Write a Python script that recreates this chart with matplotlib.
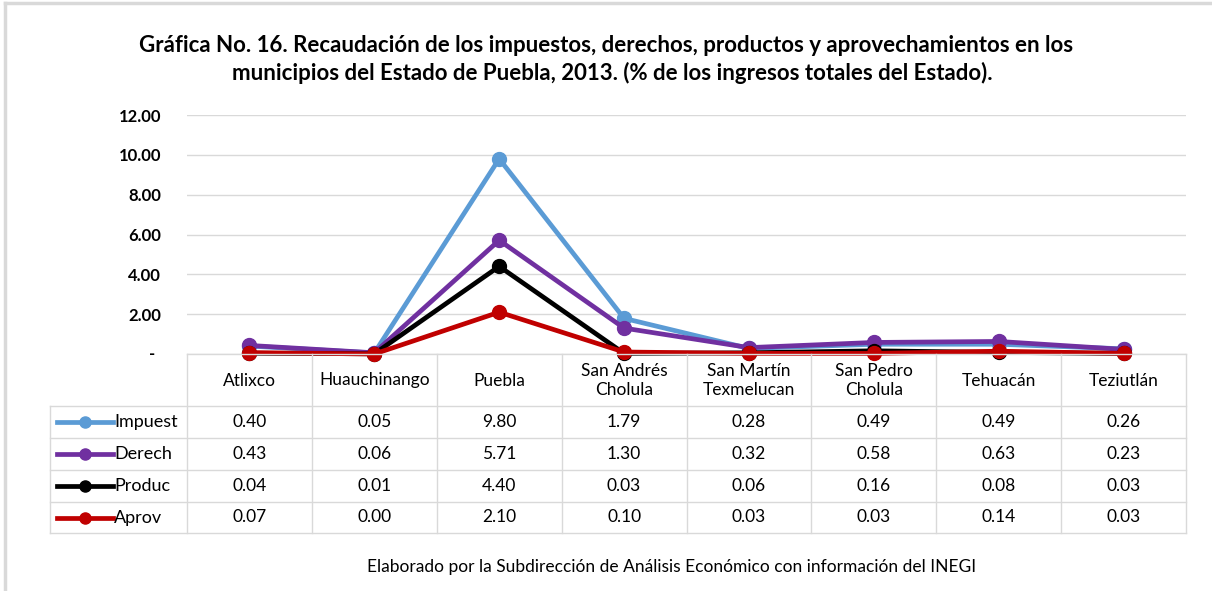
import matplotlib.pyplot as plt
from matplotlib.lines import Line2D

plt.rcParams['font.family'] = ['Lato', 'DejaVu Sans']

municipios = ["Atlixco", "Huauchinango", "Puebla", "San Andrés\nCholula", "San Martín\nTexmelucan",
              "San Pedro\nCholula", "Tehuacán", "Teziutlán"]
series_names = ["Impuest", "Derech", "Produc", "Aprov"]
impuestos = [0.40, 0.05, 9.80, 1.79, 0.28, 0.49, 0.49, 0.26]
derechos = [0.43, 0.06, 5.71, 1.30, 0.32, 0.58, 0.63, 0.23]
productos = [0.04, 0.01, 4.40, 0.03, 0.06, 0.16, 0.08, 0.03]
aprovech = [0.07, 0.00, 2.10, 0.10, 0.03, 0.03, 0.14, 0.03]
colors = ["#5B9BD5", "#7030A0", "#000000", "#C00000"]
y_ticks = [0, 2, 4, 6, 8, 10, 12]

series = [impuestos, derechos, productos, aprovech]
W, H = 1212, 591
grid_c = "#D9D9D9"

fig = plt.figure(figsize=(W / 100, H / 100), dpi=100)

# frame of the original picture
fig.add_artist(Line2D([5 / W, 5 / W], [0, 1 - 3 / H], color=grid_c, lw=2.5))
fig.add_artist(Line2D([5 / W, 1], [1 - 3 / H, 1 - 3 / H], color=grid_c, lw=2.5))

x0, x1 = 187, 1186
ax = fig.add_axes([x0 / W, 1 - 354 / H, (x1 - x0) / W, (354 - 115) / H])
xs = [i + 0.5 for i in range(len(municipios))]
for vals, c in zip(series, colors):
    ax.plot(xs, vals, color=c, lw=3.4, marker='o', ms=10, clip_on=False, zorder=3)
ax.set_xlim(0, len(municipios))
ax.set_ylim(0, 12)
ax.set_yticks(y_ticks)
ax.set_yticklabels(["" if v == 0 else f"{v:.2f}" for v in y_ticks], fontsize=12, fontweight='bold')
ax.text(-35 / (x1 - x0), 0, "-", ha='center', va='center', fontsize=12, fontweight='bold',
        transform=ax.get_yaxis_transform())
ax.tick_params(axis='y', length=0, pad=18.5)
ax.set_xticks([])
ax.grid(axis='y', color=grid_c, lw=1)
ax.set_axisbelow(True)
for s in ax.spines.values():
    s.set_visible(False)

# data table below the chart
tb = fig.add_axes([x0 / W, 1 - 533 / H, (x1 - x0) / W, (533 - 354) / H])
tb.set_xlim(0, len(municipios))
tb.set_ylim(179, 0)
tb.axis('off')
row_edges = [0, 52, 84, 116, 148, 179]
cw = (x1 - x0) / len(municipios)
leg_left = -137 / cw
for i in range(len(municipios) + 1):
    tb.plot([i, i], [0, 179], color=grid_c, lw=1, clip_on=False)
tb.plot([leg_left, leg_left], [52, 179], color=grid_c, lw=1, clip_on=False)
tb.plot([0, len(municipios)], [0, 0], color=grid_c, lw=1, clip_on=False)
for y in row_edges[1:]:
    tb.plot([leg_left, len(municipios)], [y, y], color=grid_c, lw=1, clip_on=False)
for i, name in enumerate(municipios):
    tb.text(i + 0.5, 26.5, name, ha='center', va='center', fontsize=12.5, linespacing=1.25)
for r, (name, vals, c) in enumerate(zip(series_names, series, colors)):
    yc = (row_edges[r + 1] + row_edges[r + 2]) / 2
    for i, v in enumerate(vals):
        tb.text(i + 0.5, yc, f"{v:.2f}", ha='center', va='center', fontsize=12.5)
    tb.plot([leg_left + 7 / cw, leg_left + 63 / cw], [yc, yc], color=c, lw=3.4, clip_on=False)
    tb.plot([leg_left + 35 / cw], [yc], color=c, marker='o', ms=8, clip_on=False)
    tb.text(leg_left + 64 / cw, yc, name, ha='left', va='center', fontsize=13)

fig.text(606 / W, 1 - 45 / H,
         "Gráfica No. 16. Recaudación de los impuestos, derechos, productos y aprovechamientos en los",
         ha='center', va='center', fontsize=16, fontweight='bold')
fig.text(612 / W, 1 - 73 / H,
         "municipios del Estado de Puebla, 2013. (% de los ingresos totales del Estado).",
         ha='center', va='center', fontsize=16, fontweight='bold')
fig.text(672 / W, 1 - 567 / H,
         "Elaborado por la Subdirección de Análisis Económico con información del INEGI",
         ha='center', va='center', fontsize=12.5)

fig.savefig("out.png", dpi=100)
